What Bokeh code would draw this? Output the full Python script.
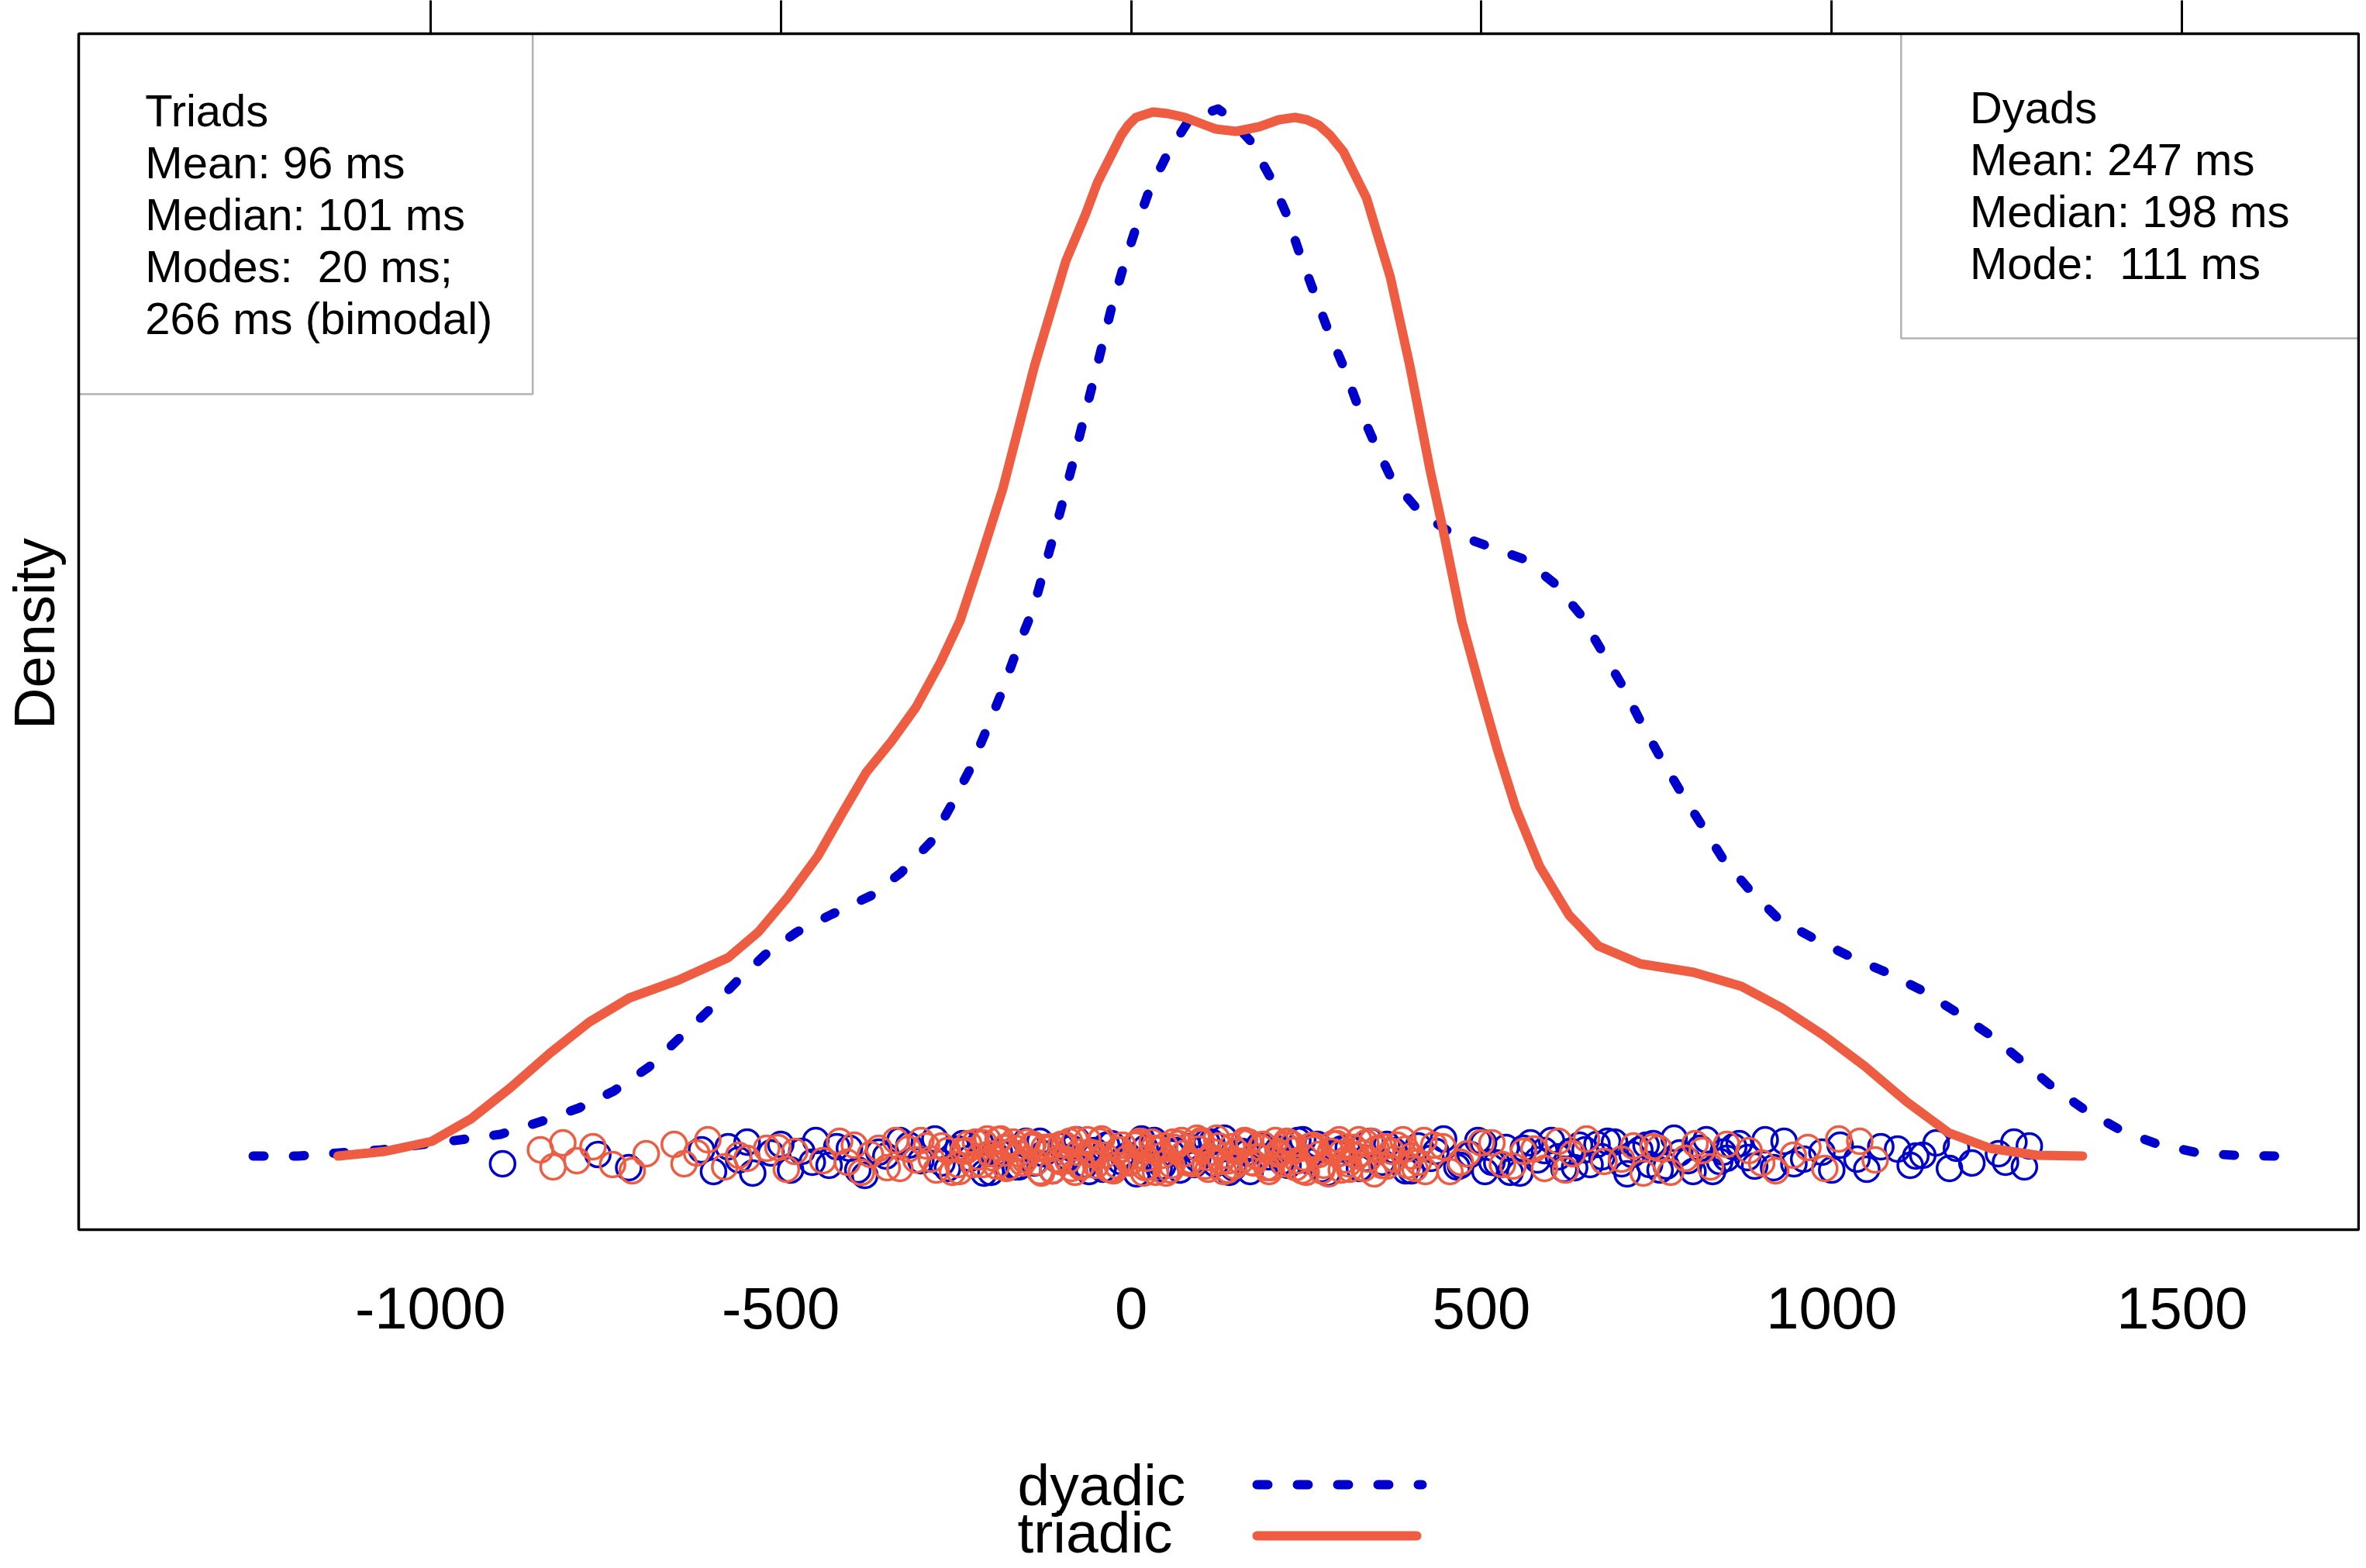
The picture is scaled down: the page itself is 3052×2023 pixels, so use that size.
import math
from bokeh.plotting import figure
from bokeh.models import Range1d, LinearAxis, FixedTicker, BoxAnnotation
from bokeh.layouts import column, row
from bokeh.embed import file_html
from bokeh.resources import INLINE
from bokeh.core.properties import value

# ---------------- data ----------------
# density curves: x in ms, height in pixel-calibrated units (converted with DENS_UNIT)
DENS_UNIT = 8.3e-7

triadic_x = [-1132, -1065, -998, -942, -886, -829, -773, -716, -646, -575, -532,
             -490, -447, -413, -378, -342, -307, -272, -244, -215, -183,
             -138, -93, -65, -48, -14, -4, 7, 31, 52, 77,
             109, 121, 150, 183, 211, 234, 251, 268, 284, 303,
             336, 370, 398, 427, 446, 472, 498, 523, 549, 583,
             625, 667, 727, 803, 871, 929, 988, 1047, 1107, 1167,
             1226, 1293, 1358]
triadic_h = [0, 6, 19, 48, 88, 133, 173, 204, 227, 256, 289,
             334, 387, 441, 495, 535, 579, 637, 691, 770, 861,
             1019, 1155, 1215, 1256, 1317, 1330, 1340, 1347, 1345, 1340,
             1329, 1325, 1322, 1328, 1337, 1340, 1337, 1330, 1317, 1296,
             1236, 1134, 1019, 884, 805, 690, 604, 524, 449, 374,
             311, 271, 248, 237, 219, 191, 156, 116, 70, 30,
             10, 1, 0]

dyadic_x = [-1253, -1189, -1070, -957, -900, -844, -788, -738, -688, -646,
            -604, -561, -522, -477, -427, -371, -329, -286, -257, -230,
            -209, -187, -160, -140, -106, -84, -70, -56, -42, -28,
            -12, 6, 26, 52, 83, 124, 135, 170, 198, 221,
            240, 260, 280, 303, 322, 345, 370, 392, 413, 455,
            506, 561, 604, 641, 671, 701, 727, 755, 785, 815,
            845, 883, 925, 976, 1027, 1078, 1128, 1179, 1226, 1272,
            1314, 1362, 1413, 1463, 1523, 1574, 1632]
dyadic_h = [0, 0, 8, 21, 28, 44, 62, 84, 115, 151,
            187, 227, 260, 289, 312, 336, 365, 405, 452, 499,
            544, 593, 660, 705, 815, 891, 942, 992, 1043, 1094,
            1144, 1195, 1246, 1293, 1337, 1351, 1344, 1310, 1264, 1217,
            1166, 1117, 1068, 1019, 972, 925, 877, 852, 830, 805,
            788, 770, 739, 699, 653, 607, 561, 515, 469, 426,
            383, 343, 305, 280, 257, 237, 214, 185, 156, 122,
            90, 59, 33, 16, 4, 1, 0]

# jittered raw observations (ms) and their vertical jitter (same units as heights)
dyadic_pts_x = [
    -897, -761, -717, -613, -596, -575, -560, -548, -540, -514,
    -500, -486, -470, -455, -450, -431, -402, -380, -350, -317,
    -300, -280, -262, -247, -230, -215, -200, -188, -179, -165,
    -150, -138, -125, -112, -100, -90, -78, -65, -52, -40,
    -28, -15, -5, 8, 20, 33, 45, 58, 70, 82,
    95, 108, 120, 133, 146, 158, 170, 183, 196, 210,
    224, 238, 252, 266, 280, 295, 310, 326, 342, 358,
    375, 392, 410, 428, 446, 465, 484, 503, 522, 541,
    560, 580, 600, 618, 627, 640, 655, 672, 690, 708,
    726, 745, 764, 783, 802, 821, 840, 860, 880, 917,
    932, 946, 986, 1000, 1012, 1036, 1094, 1112, 1130, 1149,
    1168, 1178, 1238, 1248, 1282, 505, 590, 665, 740, 850,
    -420, -390, -360, -330, -270, -240, -210, -195, -160, -130,
    -105, -85, -60, -35, -10, 15, 40, 65, 90, 115,
    140, 165, 190, 215, 245, 272, 300, 335, 365, 400,
    435, 470, 495, 515, 535, 555, 570, 610, 633, 648,
    680, 700, 715, 735, 755, 775, 795, 812, 830, 845,
    868, 890, 905, 960, 1050, 1070, 1120, 1200, 1260, 1275]
dyadic_pts_j = [
    -10, 2, -15, 8, -20, 12, -5, 18, -22, 4,
    15, -18, 6, -8, 20, -12, 10, -25, 0, 14,
    -6, 22, -16, 9, -3, 17, -21, 5, 11, -14,
    19, -9, 3, -19, 13, -2, 21, -11, 7, -17,
    16, -7, 1, -23, 10, 20, -13, 4, -18, 12,
    -4, 18, -10, 23, -15, 6, -20, 14, -1, 9,
    -12, 20, -6, 15, -22, 3, 11, -16, 19, -8,
    7, -19, 13, -3, 22, -14, 2, 17, -9, -21,
    10, -5, 20, -17, 6, 14, -11, -1, 18, -23,
    8, 16, -13, 4, -20, 21, -7, 12, -2, -15,
    19, -10, 5, -18, 14, -4, 9, -12, 1, 17,
    -16, 10, 3, -8, 13, -20, 7, 15, -11, -3,
    12, -18, 5, 20, -9, 16, -22, 3, -14, 19,
    -5, 10, -20, 14, -2, 22, -16, 7, -11, 18,
    -21, 4, 13, -7, 21, -17, 9, -3, 15, -19,
    6, -12, 20, -8, 11, -22, 17, -1, -15, 8,
    19, -10, 2, 14, -18, 23, -6, 10, -20, 5,
    16, -13, 21, -4, -17, 12, 0, -9, 18, -14]

triadic_pts_x = [
    -843, -825, -811, -791, -768, -712, -692, -652, -638, -604,
    -548, -504, -492, -480, -416, -405, -395, -385, -372, -360,
    -348, -336, -307, -292, -278, -262, -247, -232, -218, -205,
    -192, -180, -168, -155, -142, -130, -118, -105, -95, -85,
    -75, -62, -50, -38, -25, -12, 0, 12, 25, 38,
    50, 62, 75, 88, 100, 112, 125, 138, 150, 162,
    175, 188, 200, 212, 225, 238, 250, 262, 275, 288,
    300, 312, 325, 338, 350, 365, 380, 400, 420, 445,
    470, 500, 530, 560, 590, 610, 630, 675, 717, 731,
    753, 791, 805, 827, 882, 920, 966, 1010, 1062, -560,
    -20, 60, 140, 220, 300, 260, 180, 100, 20, -60,
    -330, -318, -300, -285, -270, -255, -240, -225, -210, -198,
    -186, -174, -160, -148, -136, -124, -112, -100, -90, -80,
    -70, -55, -45, -32, -18, -6, 6, 18, 32, 45,
    56, 68, 82, 94, 106, 118, 132, 144, 156, 168,
    182, 194, 206, 218, 232, 244, 256, 268, 282, 294,
    306, 318, 332, 344, 358, 372, 388, 410, 432, 455,
    480, 515, 545, 575, 620, 650, 700, 745, 770, 815,
    850, 900, 945, 990, 1040, -440, -520, -580, -620, -740,
    -245, -235, -222, -212, -202, -190, -178, -165, -152, -140,
    -128, -115, -102, -88, -72, -58, -42, -28, -15, -2,
    10, 22, 35, 48, 58, 72, 85, 97, 110, 122,
    135, 147, 160, 172, 185, 197, 210, 222, 235, 248,
    260, 272, 285, 297, 310, 322, 335, 347, 360, 376,
    392, 405, 418, 395, 330, 230, 128, 30, -80, -180]
triadic_pts_j = [
    8, -14, 17, -6, 12, -19, 3, 15, -10, 21,
    -3, 11, -17, 6, 19, -8, 14, -21, 2, 10,
    -15, 20, -5, 13, -18, 7, -11, 16, -1, 22,
    -13, 4, 18, -9, 12, -20, 9, -4, 15, -16,
    5, 21, -12, 1, -19, 14, -7, 19, -14, 8,
    -22, 11, 3, -10, 17, -2, 13, -18, 6, 20,
    -9, 15, -15, 2, 18, -6, -21, 10, -12, 16,
    4, -17, 21, -4, 9, -13, 14, 0, -20, 12,
    -8, 17, -11, 6, -16, 19, 3, -7, 13, -22,
    10, -3, 16, -14, 7, -19, 11, 22, -5, 1,
    -12, 18, -6, 14, -18, 9, -1, 20, -15, 5,
    -16, 9, 20, -4, 13, -21, 6, -11, 17, -2,
    22, -14, 3, 18, -8, 11, -19, 15, -6, 21,
    -12, 4, 19, -17, 8, -3, 14, -22, 10, 1,
    -18, 16, -9, 23, -13, 5, -20, 12, -7, 18,
    -1, -15, 20, -10, 7, -19, 13, 2, -23, 16,
    -5, 11, -16, 19, -12, 6, 21, -8, 14, -20,
    3, 17, -13, 9, -18, 22, -4, 12, -21, 7,
    15, -9, 1, -16, 19, -6, 10, -14, 4, -11,
    -20, 7, 18, -11, 3, 21, -16, 10, -5, 15,
    -22, 12, -7, 19, -14, 2, 22, -18, 8, -9,
    16, -3, -21, 13, -12, 20, -6, 9, -17, 23,
    1, -13, 17, -8, 11, -20, 5, 19, -15, -2,
    14, -19, 6, 21, -10, 0, 17, -23, 12, -4,
    9, -16, 20, -12, 4, 15, -7, 18, -21, 11]

x_ticks = [-1000, -500, 0, 500, 1000, 1500]
x_tick_labels = {-1000: "-1000", -500: "-500", 0: "0", 500: "500", 1000: "1000", 1500: "1500"}
triads_text = ["Triads", "Mean: 96 ms", "Median: 101 ms", "Modes:\u00a0 20 ms;", "266 ms (bimodal)"]
dyads_text = ["Dyads", "Mean: 247 ms", "Median: 198 ms", "Mode:\u00a0 111 ms"]
legend_labels = ["dyadic", "triadic"]
y_title = "Density"

BLUE = "#0000CD"
RED = "#EE5C42"
FONT = "Liberation Sans"

SIDE_W = 90
MAIN_H = 1798
Y_RANGE = (-95 * DENS_UNIT, 1448 * DENS_UNIT)

# ---------------- y title strip (frame aligned with the main plot) ----------------
side = figure(width=SIDE_W, height=MAIN_H, output_backend="svg", toolbar_location=None,
              x_range=Range1d(0, SIDE_W), y_range=Range1d(*Y_RANGE),
              min_border_left=0, min_border_right=0, min_border_top=43,
              min_border_bottom=212, x_axis_location=None, y_axis_location=None)
side.grid.visible = False
side.outline_line_color = None
side.text(x=[44], y=[674 * DENS_UNIT], text=[y_title], angle=math.pi / 2,
          text_font=value(FONT), text_font_size=value("74px"),
          text_align="center", text_baseline="middle", text_color="black")

# ---------------- main figure ----------------
p = figure(width=3044 - SIDE_W, height=MAIN_H, output_backend="svg", toolbar_location=None,
           x_range=Range1d(-1502, 1752), y_range=Range1d(*Y_RANGE),
           min_border_left=101 - SIDE_W, min_border_top=43, min_border_right=2,
           min_border_bottom=212, y_axis_location=None)
p.grid.visible = False
p.outline_line_color = "black"
p.outline_line_width = 3.5
p.background_fill_color = "white"
p.border_fill_color = "white"

xa = p.xaxis[0]
xa.ticker = FixedTicker(ticks=x_ticks)
xa.major_label_overrides = x_tick_labels
xa.axis_line_color = None
xa.major_tick_line_color = None
xa.minor_tick_line_color = None
xa.major_tick_out = 0
xa.major_tick_in = 0
xa.major_label_standoff = 74
xa.major_label_text_font = FONT
xa.major_label_text_font_size = "76px"
xa.major_label_text_color = "black"

top = LinearAxis(ticker=FixedTicker(ticks=x_ticks))
top.axis_line_color = None
top.minor_tick_line_color = None
top.major_tick_line_color = "black"
top.major_tick_line_width = 3
top.major_tick_out = 43
top.major_tick_in = 0
top.major_label_standoff = 0
top.major_label_text_font_size = "0px"
top.major_label_text_color = None
p.add_layout(top, "above")

def dens(hs):
    return [h * DENS_UNIT for h in hs]

# dyadic group: points then curve
p.scatter(dyadic_pts_x, dens(dyadic_pts_j), marker="circle", size=32,
          fill_color=None, line_color=BLUE, line_width=3.5)
p.line(dyadic_x, dens(dyadic_h), line_color=BLUE, line_width=12,
       line_dash="14 38", line_cap="round", line_join="round")
# triadic group: points then curve
p.scatter(triadic_pts_x, dens(triadic_pts_j), marker="circle", size=32,
          fill_color=None, line_color=RED, line_width=3.5)
p.line(triadic_x, dens(triadic_h), line_color=RED, line_width=12,
       line_cap="round", line_join="round")

# statistics boxes
p.add_layout(BoxAnnotation(left=-1502, right=-854, top=1448 * DENS_UNIT,
                           bottom=983 * DENS_UNIT, fill_color=None, fill_alpha=0,
                           line_color="black", line_width=2.5))
p.add_layout(BoxAnnotation(left=1099, right=1752, top=1448 * DENS_UNIT,
                           bottom=1055 * DENS_UNIT, fill_color=None, fill_alpha=0,
                           line_color="black", line_width=2.5))

p.text(x=[-1407] * len(triads_text),
       y=[(1349 - 67 * i) * DENS_UNIT for i in range(len(triads_text))],
       text=triads_text, text_font=value(FONT), text_font_size=value("58px"),
       text_align="left", text_baseline="middle", text_color="black")
p.text(x=[1197] * len(dyads_text),
       y=[(1353 - 67 * i) * DENS_UNIT for i in range(len(dyads_text))],
       text=dyads_text, text_font=value(FONT), text_font_size=value("58px"),
       text_align="left", text_baseline="middle", text_color="black")

# ---------------- legend strip ----------------
lg = figure(width=3044, height=223, output_backend="svg", toolbar_location=None,
            x_range=Range1d(0, 3044), y_range=Range1d(0, 223),
            min_border_left=0, min_border_right=0, min_border_top=0,
            min_border_bottom=0, x_axis_location=None, y_axis_location=None)
lg.grid.visible = False
lg.outline_line_color = None
lg.text(x=[1312, 1312], y=[106, 45], text=legend_labels, text_font=value(FONT),
        text_font_size=value("75px"), text_align="left", text_baseline="middle",
        text_color="black")
lg.line([1621, 1834], [106, 106], line_color=BLUE, line_width=12,
        line_dash="14 38", line_cap="round")
lg.line([1621, 1827], [40, 40], line_color=RED, line_width=12, line_cap="round")

layout = column(row(side, p, spacing=0), lg, spacing=0)
open("out.html", "w").write(file_html(layout, INLINE))
